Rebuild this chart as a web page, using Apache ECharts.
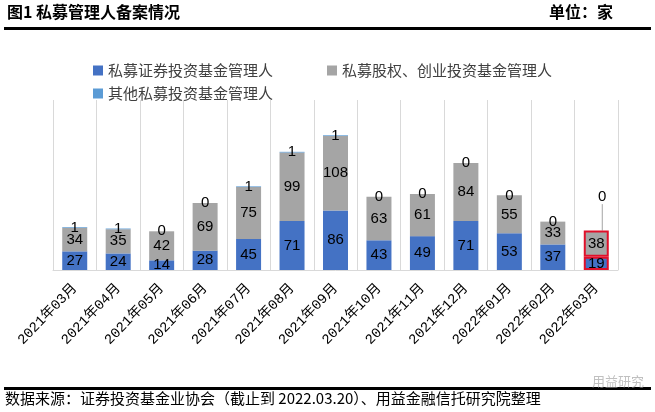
<!DOCTYPE html>
<html><head><meta charset="utf-8">
<script src="https://cdn.jsdelivr.net/npm/echarts@6/dist/echarts.min.js"></script>
<style>html,body{margin:0;padding:0;background:#fff}#c{width:655px;height:412px}</style>
</head><body><div id="c"></div>
<script>
var categories = ['2021年03月','2021年04月','2021年05月','2021年06月','2021年07月','2021年08月','2021年09月','2021年10月','2021年11月','2021年12月','2022年01月','2022年02月','2022年03月'];
var securities = [27,24,14,28,45,71,86,43,49,71,53,37,19];
var equity = [34,35,42,69,75,99,108,63,61,84,55,33,38];
var others = [1,1,0,0,1,1,1,0,0,0,0,0,0];
var seriesNames = ['私募证券投资基金管理人','私募股权、创业投资基金管理人','其他私募投资基金管理人'];

var CJK = '"Noto Sans CJK SC", sans-serif';
var NUM = '"Liberation Sans", Arial, sans-serif';
var lastIdx = categories.length - 1;

function mk(arr, color, hl) {
  return arr.map(function(v,i){
    var d = {value:v};
    if (hl && i === lastIdx) d.itemStyle = {color:color, borderColor:'#E0102A', borderWidth:2};
    return d;
  });
}
var otherData = others.map(function(v,i){
  var d = {value:v};
  if (i === lastIdx) { d.labelLine = {show:true, lineStyle:{color:'#A5A5A5', width:1}}; }
  return d;
});

var labelStyle = {show:true, position:'inside', color:'#000', fontFamily:NUM, fontSize:15};

var chart = echarts.init(document.getElementById('c'), null, {renderer:'canvas'});
chart.setOption({
  animation:false,
  backgroundColor:'#fff',
  grid:{left:53, right:37, top:100, bottom:142},
  legend:[
    {data:[seriesNames[0], seriesNames[1]], left:88, top:58, itemWidth:10, itemHeight:10, itemGap:54, icon:'rect',
     textStyle:{fontFamily:CJK, fontSize:15, color:'#404040'}},
    {data:[seriesNames[2]], left:88, top:81, itemWidth:10, itemHeight:10, icon:'rect',
     textStyle:{fontFamily:CJK, fontSize:15, color:'#404040'}}
  ],
  xAxis:{type:'category', data:categories,
    axisLine:{lineStyle:{color:'#D9D9D9', width:1}}, axisTick:{show:false},
    splitLine:{show:true, lineStyle:{color:'#D9D9D9', width:1}},
    axisLabel:{rotate:46, margin:16, fontFamily:'"Liberation Mono", "Noto Sans CJK SC", monospace', fontSize:14, color:'#000', interval:0}},
  yAxis:{type:'value', min:0, max:246, show:false, splitLine:{show:false}},
  series:[
    {name:seriesNames[0], type:'bar', stack:'s', barWidth:25, data:mk(securities,'#4472C4',true),
     itemStyle:{color:'#4472C4'}, label:labelStyle},
    {name:seriesNames[1], type:'bar', stack:'s', barWidth:25, data:mk(equity,'#A5A5A5',true),
     itemStyle:{color:'#A5A5A5'}, label:labelStyle},
    {name:seriesNames[2], type:'bar', stack:'s', barWidth:25, data:otherData,
     itemStyle:{color:'#5B9BD5'}, label:labelStyle,
     labelLayout:function(p){ if (p.dataIndex === lastIdx) return {dy:-34, dx:6}; return {}; }}
  ],
  graphic:[
    {type:'text', left:7, top:4, style:{text:'图1 私募管理人备案情况', font:'bold 16px '+CJK, fill:'#000'}},
    {type:'text', right:42, top:4, style:{text:'单位：家', font:'bold 16px '+CJK, fill:'#000'}},
    {type:'rect', shape:{x:4, y:27, width:647, height:3}, style:{fill:'#000'}},
    {type:'rect', shape:{x:4, y:387, width:647, height:3}, style:{fill:'#000'}},
    {type:'text', left:5, top:391, style:{text:'数据来源：证券投资基金业协会（截止到 2022.03.20）、用益金融信托研究院整理', font:'15px '+CJK, fill:'#000'}},
    {type:'text', left:592, top:375, style:{text:'用益研究', font:'13px '+CJK, fill:'rgba(150,150,150,0.6)'}}
  ]
});
</script></body></html>
